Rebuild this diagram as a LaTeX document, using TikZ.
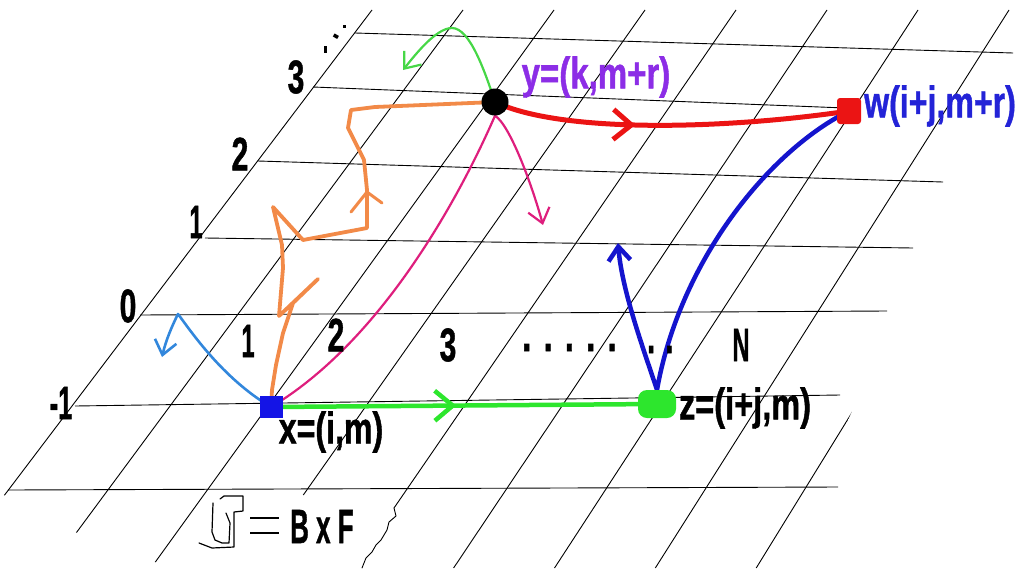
\documentclass[tikz,border=0pt]{standalone}
\usepackage{fontspec}
\setmainfont{Liberation Sans}
\newfontfamily\imp{Liberation Sans}[FakeBold=1.2]
\usetikzlibrary{arrows.meta,decorations.markings}
\definecolor{orng}{RGB}{242,138,72}
\definecolor{grn}{RGB}{45,230,45}
\definecolor{grnloop}{RGB}{70,215,70}
\definecolor{pnk}{RGB}{222,30,125}
\definecolor{rd}{RGB}{235,20,20}
\definecolor{dblue}{RGB}{20,20,205}
\definecolor{lblue}{RGB}{50,135,220}
\definecolor{xblue}{RGB}{20,20,230}
\definecolor{purp}{RGB}{140,45,230}
\definecolor{wblue}{RGB}{35,35,215}
\pgfdeclarelayer{bg}
\pgfsetlayers{bg,main}
\newcommand{\sx}[2]{\scalebox{#1}[1]{#2}}
\begin{document}
\begin{tikzpicture}[x=1pt,y=-1pt,
  gridl/.style={line width=0.9pt,black},
  axis/.style={inner sep=0pt,font=\imp\bfseries\fontsize{47}{47}\selectfont},
  lbl/.style={inner sep=0pt,font=\imp\bfseries\fontsize{44}{44}\selectfont},
  hand/.style={line cap=round,line join=round},
  midchev/.style={postaction={decorate},decoration={markings,
     mark=at position #1 with {\arrow{Straight Barb[length=18pt,width=30pt]}}}},
  endbarb/.style={-{Straight Barb[length=14pt,width=22pt]}}]
\useasboundingbox (0,0) rectangle (1027,568);

% points
\node[fill=xblue,minimum width=23pt,minimum height=22pt,inner sep=0pt] (x) at (271,407) {};
\node[circle,fill=black,minimum size=27pt,inner sep=0pt] (y) at (495,102) {};
\node[fill=rd,rounded corners=3pt,minimum width=24pt,minimum height=26pt,inner sep=0pt] (w) at (849,111) {};
\node[fill=grn,rounded corners=9pt,minimum width=38pt,minimum height=28pt,inner sep=0pt] (z) at (657,404) {};

% free ends
\coordinate (lb) at (162,357);
\coordinate (gl) at (403,70);
\coordinate (pk) at (543,225);
\coordinate (bt) at (618,243);

% labels
\node[lbl] (xl) at (331,432) {\sx{0.73}{x=(i,m)}};
\node[lbl] (zl) at (745,408) {\sx{0.74}{z=(i+j,m)}};
\node[lbl,text=purp] (yl) at (596,77) {\sx{0.75}{y=(k,m+r)}};
\node[lbl,text=wblue] (wl) at (940,106) {\sx{0.73}{w(i+j,m+r)}};

\node[axis] (a3) at (296,77) {\sx{0.64}{3}};
\node[axis] (a2) at (240,154) {\sx{0.64}{2}};
\node[axis] (a1) at (196,222) {\sx{0.5}{1}};
\node[axis] (a0) at (128,306) {\sx{0.64}{0}};
\node[axis] (am) at (61,403) {\sx{0.54}{-1}};
\node[axis] (b1) at (248,341) {\sx{0.5}{1}};
\node[axis] (b2) at (336,335) {\sx{0.64}{2}};
\node[axis] (b3) at (448,345) {\sx{0.64}{3}};
\node[axis] (bN) at (741,345) {\sx{0.5}{N}};
\node[axis,anchor=base west] (d1) at (522,351) {\sx{0.7}{. . . . .}};
\node[axis,anchor=base west] (d2) at (647,353) {\sx{0.6}{. .}};
\node[inner sep=0pt,font=\imp\bfseries\fontsize{48}{48}\selectfont,anchor=base west] (bxf) at (290,543) {\sx{0.54}{B x F}};

% small dots near 3
\fill (323.5,46) rectangle (327,53);
\fill[rotate around={-30:(336,36)}] (333.5,34.5) rectangle (338.5,38);
\fill (342.5,24.5) rectangle (346,27.5);

% symbol and equals
\draw[line width=1.2pt,hand] (213,503) -- (212,532) -- (215,540) -- (222,543) -- (229,543) -- (230,523) -- (226,513);
\draw[line width=1.2pt,hand] (220,499) -- (224,496) -- (243,496) -- (243,511) -- (234,512) -- (234,547) -- (212,548) -- (199,543);
\draw[line width=1.4pt] (250,518) -- (279,518);
\draw[line width=1.4pt] (250,533) -- (279,533);

\begin{pgfonlayer}{bg}
  % slanted grid lines
  \begin{scope}
    \clip (2,494) -- (371,4) -- (1027,4) -- (1027,30) -- (780,568) -- (172,568) -- (87,538) -- cycle;
    \draw[gridl] (-50.7,568) -- (372,10);
    \draw[gridl] (50.2,568) -- (463,10);
    \draw[gridl] (151,568) -- (554,10);
    \draw[gridl] (303.3,495) -- (645,10);
    \draw[gridl] (394,508) -- (736,10);
    \draw[gridl] (453.6,568) -- (827,10);
    \draw[gridl] (554.5,568) -- (918,10);
    \draw[gridl] (655.3,568) -- (1009,10);
    \draw[gridl] (756.2,568) -- (1100,10);
    \draw[gridl] (857,568) -- (1191,10);
  \end{scope}
  \draw[gridl,hand] (394,508) -- (396,516) -- (389,522) -- (387,530) -- (381,540) -- (376,545) -- (372,552) -- (366,558) -- (362,568);
  % horizontal grid lines
  \draw[gridl] (355,33) -- (1013,53);
  \draw[gridl] (313,87) -- (845,108);
  \draw[gridl] (258,161) -- (943,182);
  \draw[gridl] (205,238) -- (913,248);
  \draw[gridl] (140,315) -- (887,311);
  \draw[gridl] (75,406) -- (840,395);
  \draw[gridl] (8,490) -- (838,487);

  % connectors
  \draw[grn,line width=4.5pt,midchev=0.48] (x.center) -- (z.center);
  \draw[rd,line width=5pt,midchev=0.40] (y.center) .. controls (560,133) and (720,130) .. (w.center);
  \draw[dblue,line width=4.5pt,hand,endbarb] (w.center) .. controls (770,150) and (680,260) .. (z.north)
        .. controls (642,345) and (622,290) .. (bt);
  \draw[pnk,line width=2.2pt,hand,endbarb] (x.center) .. controls (400,330) and (480,150) .. (y.south)
        .. controls (510,125) and (532,185) .. (pk);
  \draw[lblue,line width=2.6pt,hand,endbarb] (x.center) .. controls (222,378) and (190,330) .. (178,314)
        .. controls (172,326) and (166,340) .. (lb);
  \draw[grnloop,line width=2.2pt,hand,endbarb] (y.center) .. controls (485,72) and (470,28) .. (452,28)
        .. controls (436,28) and (415,55) .. (gl);
  \draw[orng,line width=3.8pt,hand] (x.center) -- (272,390) -- (276,365) -- (283,333) -- (293,303)
        -- (318,279) -- (279,316) -- (283,268) -- (282,245) -- (273,207) -- (303,240) -- (367,228)
        -- (367,190) -- (364,160) -- (348,128) -- (351,110) -- (375,107) -- (y.center);
  \draw[orng,line width=3pt,hand] (351,212) -- (367,192) -- (382,203);
\end{pgfonlayer}
\end{tikzpicture}
\end{document}
